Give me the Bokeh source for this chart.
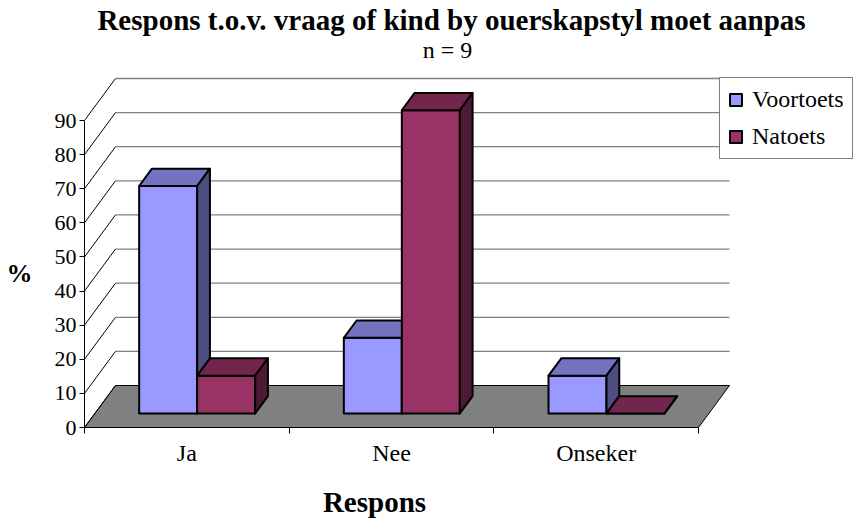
from bokeh.plotting import figure
from bokeh.models import Range1d, FixedTicker, Legend, LegendItem, LinearAxis
from bokeh.core.properties import value
from bokeh.embed import file_html
from bokeh.resources import INLINE

# ---- data ----
title_text = "Respons t.o.v. vraag of kind by ouerskapstyl moet aanpas"
subtitle_text = "n = 9"
x_title = "Respons"
y_title = "%"
categories = ["Ja", "Nee", "Onseker"]
series_names = ["Voortoets", "Natoets"]
voortoets = [66.7, 22.2, 11.1]
natoets = [11.1, 88.9, 0.0]
y_ticks = [0, 10, 20, 30, 40, 50, 60, 70, 80, 90]

# ---- styles ----
FONT = "Liberation Serif"
front_colors = ["#9999FF", "#993366"]
top_colors = ["#7373BF", "#73264D"]
side_colors = ["#4D4D80", "#4D1A33"]

# ---- layout (pixels, canvas coordinates) ----
W, H = 858, 520
FL = 84          # left border (front y axis position)
FB = 93          # bottom border (front x axis at y=427)
frame_w = W - FL
frame_h = H - FB
n_cat = len(categories)
KX = 614 / n_cat         # px per category
KY = 307 / y_ticks[-1]   # px per percent
x_end = frame_w / KX
y_end = frame_h / KY


def ux(px):
    return px / KX


def uy(px):
    return px / KY


def cx(canvas_x):
    return (canvas_x - FL) / KX


def cy(canvas_y):
    return (frame_h - canvas_y) / KY


DX, DY = ux(31), uy(42)      # depth of the 3D box
F1, F2 = 1 / 3, 0.745        # bar depth span (fraction of box depth)
BW = ux(58)                  # bar width

p = figure(width=W, height=H, x_range=Range1d(0, x_end), y_range=Range1d(0, y_end),
           output_backend="svg", toolbar_location=None,
           min_border_left=FL, min_border_right=0, min_border_top=0, min_border_bottom=FB,
           x_axis_location=None, y_axis_location=None)
p.outline_line_color = None
p.background_fill_color = "white"
p.border_fill_color = "white"
p.grid.visible = False

# floor
p.patch([0, n_cat, n_cat + DX, DX], [0, 0, DY, DY], fill_color="#808080",
        line_color="black", line_width=1)

# back wall gridlines
p.multi_line([[DX, n_cat + DX] for v in y_ticks[1:]],
             [[v + DY, v + DY] for v in y_ticks[1:]],
             line_color="#808080", line_width=1.3)
# side wall diagonals
p.multi_line([[0, DX] for v in y_ticks], [[v, v + DY] for v in y_ticks],
             line_color="black", line_width=1)

# bars
front_renderers = []
for s, vals in enumerate([voortoets, natoets]):
    x0 = [i + 0.5 - BW + s * BW for i in range(n_cat)]
    x1 = [a + BW for a in x0]
    left = [a + F1 * DX for a in x0]
    right = [a + F1 * DX for a in x1]
    bottom = [F1 * DY] * n_cat
    top = [v + F1 * DY for v in vals]
    fr = p.quad(left=left, right=right, bottom=bottom, top=top,
                fill_color=front_colors[s], line_color="black", line_width=2,
                line_join="round")
    front_renderers.append(fr)
    txs, tys, sxs, sys_ = [], [], [], []
    for a, b, v in zip(x0, x1, vals):
        txs.append([a + F1 * DX, b + F1 * DX, b + F2 * DX, a + F2 * DX])
        tys.append([v + F1 * DY, v + F1 * DY, v + F2 * DY, v + F2 * DY])
        sxs.append([b + F1 * DX, b + F2 * DX, b + F2 * DX, b + F1 * DX])
        sys_.append([F1 * DY, F2 * DY, v + F2 * DY, v + F1 * DY])
    p.patches(txs, tys, fill_color=top_colors[s], line_color="black", line_width=2,
              line_join="round")
    p.patches(sxs, sys_, fill_color=side_colors[s], line_color="black", line_width=2,
              line_join="round")

# titles (text glyphs draw ~8px below their nominal baseline)
p.text(x=[cx(451)], y=[cy(19)], text=[title_text], text_font=value(FONT),
       text_font_size="29px", text_font_style="bold", text_align="center",
       text_baseline="alphabetic", text_color="black")
p.text(x=[cx(447)], y=[cy(49)], text=[subtitle_text], text_font=value(FONT),
       text_font_size="24px", text_align="center",
       text_baseline="alphabetic", text_color="black")

# y axis
yax = LinearAxis(ticker=FixedTicker(ticks=y_ticks), bounds=(0, y_ticks[-1]))
yax.axis_line_color = "black"
yax.major_tick_out = 5
yax.major_tick_in = 0
yax.minor_tick_line_color = None
yax.major_label_standoff = 3
yax.major_label_text_font = FONT
yax.major_label_text_font_size = "22px"
yax.major_label_text_color = "black"
p.add_layout(yax, "left")

# y axis title, carried by an outer axis with a single labelled tick
y_title_pos = cy(273)
ytit = LinearAxis(ticker=FixedTicker(ticks=[y_title_pos]))
ytit.major_label_overrides = {y_title_pos: y_title}
ytit.axis_line_color = None
ytit.major_tick_line_color = None
ytit.minor_tick_line_color = None
ytit.major_tick_out = 0
ytit.major_tick_in = 0
ytit.major_label_standoff = 19
ytit.major_label_text_font = FONT
ytit.major_label_text_font_size = "26px"
ytit.major_label_text_font_style = "bold"
ytit.major_label_text_color = "black"
p.add_layout(ytit, "left")

# x axis
centers = [i + 0.5 for i in range(n_cat)]
bounds_ticks = [i for i in range(n_cat + 1)]
xax = LinearAxis(ticker=FixedTicker(ticks=centers, minor_ticks=bounds_ticks),
                 bounds=(0, n_cat))
xax.major_label_overrides = {c: lab for c, lab in zip(centers, categories)}
xax.axis_line_color = "black"
xax.major_tick_out = 0
xax.major_tick_in = 0
xax.major_tick_line_color = None
xax.minor_tick_out = 6
xax.minor_tick_in = 0
xax.minor_tick_line_color = "black"
xax.major_label_standoff = 6
xax.major_label_text_font = FONT
xax.major_label_text_font_size = "24px"
xax.major_label_text_color = "black"
p.add_layout(xax, "below")

# x axis title, carried by an outer axis with a single labelled tick
x_title_pos = cx(374)
xtit = LinearAxis(ticker=FixedTicker(ticks=[x_title_pos]))
xtit.major_label_overrides = {x_title_pos: x_title}
xtit.axis_line_color = None
xtit.major_tick_line_color = None
xtit.minor_tick_line_color = None
xtit.major_tick_out = 0
xtit.major_tick_in = 0
xtit.major_label_standoff = 17
xtit.major_label_text_font = FONT
xtit.major_label_text_font_size = "29px"
xtit.major_label_text_font_style = "bold"
xtit.major_label_text_color = "black"
p.add_layout(xtit, "below")

# legend
legend = Legend(items=[LegendItem(label=series_names[k], renderers=[front_renderers[k]])
                       for k in range(len(series_names))])
legend.location = (719 - FL, frame_h - 159)
legend.border_line_color = "black"
legend.border_line_width = 1
legend.background_fill_color = "white"
legend.background_fill_alpha = 1
legend.label_text_font = FONT
legend.label_text_font_size = "24px"
legend.label_text_color = "black"
legend.glyph_width = 15
legend.glyph_height = 15
legend.label_standoff = 9
legend.label_height = 25
legend.padding = 8
legend.spacing = 10
legend.margin = 0
p.add_layout(legend)

open("out.html", "w").write(file_html(p, INLINE))
